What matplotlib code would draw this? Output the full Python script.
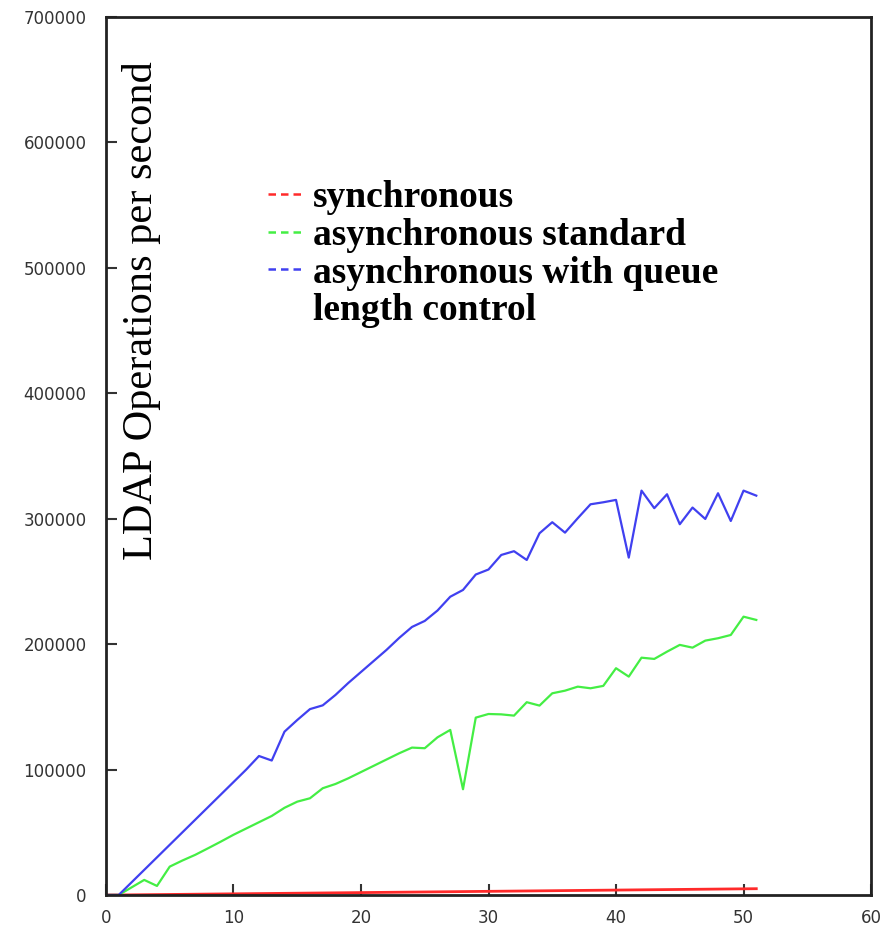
import matplotlib.pyplot as plt
from matplotlib.lines import Line2D

clients = list(range(0, 52))

sync_ops = [0, 0, 100, 200, 300, 400, 500, 600, 700, 800, 900, 1000, 1100, 1200,
            1300, 1400, 1500, 1600, 1700, 1800, 1900, 2000, 2100, 2200, 2300, 2400,
            2500, 2600, 2700, 2800, 2900, 3000, 3100, 3200, 3300, 3400, 3500, 3600,
            3700, 3800, 3900, 4000, 4100, 4200, 4300, 4400, 4500, 4600, 4700, 4800,
            4900, 5000]

async_std_ops = [0, 0, 6000, 12000, 7200, 22600, 27500, 32000, 37200, 42500, 48000,
                 53000, 58000, 63000, 69500, 74400, 77100, 85100, 88500, 93000, 98000,
                 103000, 108000, 113000, 117500, 117000, 125700, 131600, 84300, 141400,
                 144300, 144000, 143000, 153700, 151000, 160800, 162900, 166100, 164800,
                 166700, 180800, 174100, 189200, 188200, 194000, 199400, 197200, 202800,
                 204700, 207300, 221900, 219300]

async_queue_ops = [0, 0, 10000, 20000, 30000, 40000, 50000, 60000, 70000, 80000, 90000,
                   100000, 110800, 107200, 130200, 139500, 148200, 151200, 159500, 169000,
                   177800, 186600, 195400, 205000, 213700, 218500, 226800, 237800, 243200,
                   255500, 259500, 271100, 274100, 267100, 288400, 297200, 288900, 300400,
                   311500, 313100, 315000, 269000, 322400, 308400, 319500, 295600, 308900,
                   299800, 320300, 298200, 322400, 318400]

labels = ['synchronous', 'asynchronous standard', 'asynchronous with queue',
          'length control']
colors = ['#ff2a2a', '#44ee44', '#4040f0']

fig = plt.figure(figsize=(8.89, 9.31), dpi=100)
ax = fig.add_axes([0.1192, 0.0387, 0.8606, 0.943])

ax.plot(clients, sync_ops, color=colors[0], lw=2.0)
ax.plot(clients, async_std_ops, color=colors[1], lw=1.6)
ax.plot(clients, async_queue_ops, color=colors[2], lw=1.6)

ax.set_xlim(0, 60)
ax.set_ylim(0, 700000)
ax.set_xticks(range(0, 61, 10))
ax.set_yticks(range(0, 700001, 100000))
ax.tick_params(direction='in', length=8, width=1.5, color='#333333',
               labelcolor='#333333', labelsize=12)
ax.tick_params(axis='y', pad=14)
ax.tick_params(axis='x', pad=10)
for s in ax.spines.values():
    s.set_linewidth(2)
    s.set_color('#222222')

ax.text(0.047, 0.666, 'LDAP Operations per second', transform=ax.transAxes,
        rotation=90, ha='center', va='center', fontsize=30.5,
        family='Liberation Serif')

handles = [Line2D([], [], color=c, lw=1.8, ls=(0, (3, 2))) for c in colors]
handles.append(Line2D([], [], color='none'))
ax.legend(handles, labels, loc='upper left', bbox_to_anchor=(0.212, 0.814),
          frameon=False, borderpad=0, borderaxespad=0,
          handlelength=0.9, handletextpad=0.3, labelspacing=0.07,
          prop={'family': 'Liberation Serif', 'weight': 'bold', 'size': 27})

fig.savefig('out.png', dpi=100)
